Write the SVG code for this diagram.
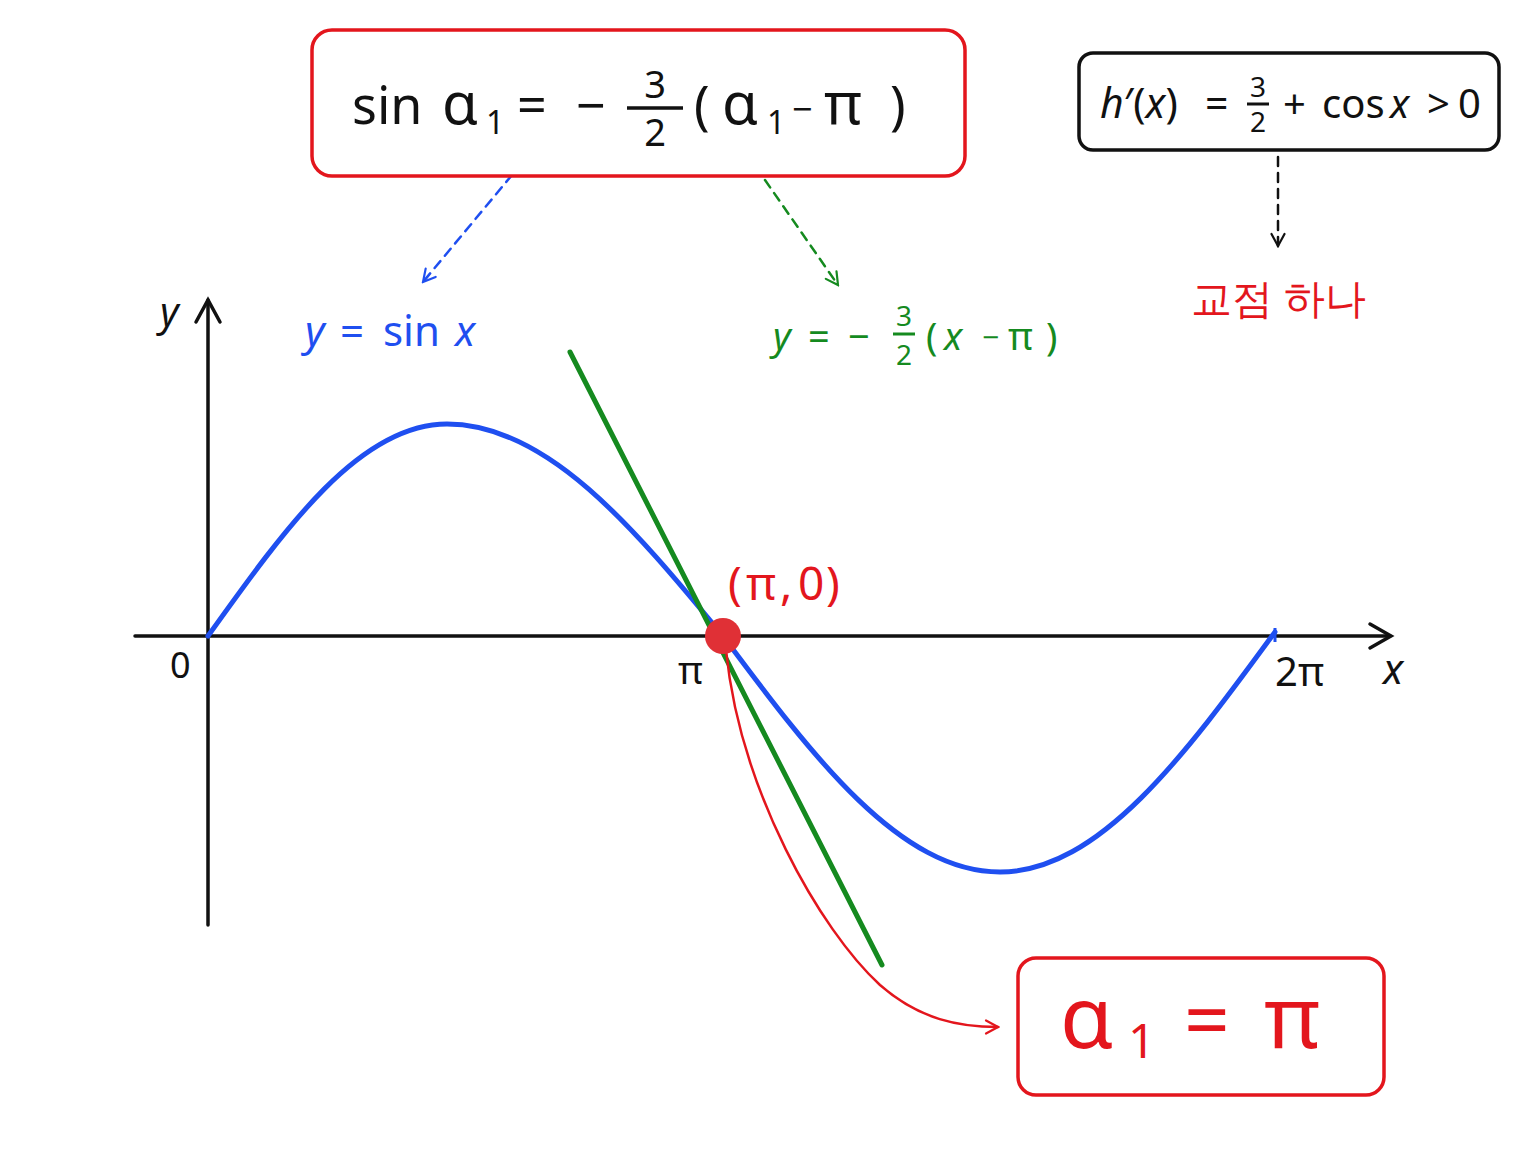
<svg xmlns="http://www.w3.org/2000/svg" width="1536" height="1152" viewBox="0 0 1536 1152">
<style>
text{font-family:"Noto Sans","DejaVu Sans",sans-serif}
.k{fill:#111}.r{fill:#e3161d}.b{fill:#1f4ff0}.g{fill:#158a1f}
.box{fill:#fff;stroke-width:3.5}
.ax{stroke:#111;stroke-width:3.5;fill:none;stroke-linecap:round}
.i{font-style:italic}
</style>
<defs>
<marker id="ch" viewBox="0 0 16 16" refX="14" refY="8" markerWidth="16" markerHeight="16" markerUnits="userSpaceOnUse" orient="auto">
<path d="M2,1.5 L14,8 L2,14.5" fill="none" stroke="context-stroke" stroke-width="2.2" stroke-linecap="round"/>
</marker>
</defs>
<rect width="1536" height="1152" fill="#fff"/>

<g id="axes">
<line class="ax" x1="135" y1="636" x2="1390" y2="636"/>
<path class="ax" d="M1370,624 L1391,636 L1370,648"/>
<line class="ax" x1="208" y1="925" x2="208" y2="300"/>
<path class="ax" d="M196,322 L208,300 L220,322"/>
<text class="k i" x="160" y="326" font-size="40">y</text>
<text class="k" x="170" y="678" font-size="36">0</text>
<text class="k" x="678" y="684" font-size="38">π</text>
<text class="k" x="1275" y="686" font-size="40">2π</text>
<text class="k i" x="1383" y="684" font-size="42">x</text>
</g>

<g id="sine">
<path d="M208,636 C286,527 360,424 447,424 C547,424 633,527 723,636 C813,757 900,872 1000,872 C1099,872 1185,755 1275,632" fill="none" stroke="#1f4ff0" stroke-width="5" stroke-linecap="round"/>
<line x1="1275" y1="628" x2="1275" y2="642" stroke="#1f4ff0" stroke-width="3"/>
</g>

<g id="tangent">
<line x1="570" y1="352" x2="882" y2="965" stroke="#158a1f" stroke-width="5" stroke-linecap="round"/>
</g>

<g id="connectors" fill="none" stroke-width="2.5" stroke-linecap="round">
<path d="M726,650 C740,790 820,930 880,985 C920,1020 960,1027 998,1027" stroke="#e3161d" marker-end="url(#ch)"/>
<line x1="512" y1="175" x2="423" y2="282" stroke="#1f4ff0" stroke-dasharray="9,7" marker-end="url(#ch)"/>
<line x1="765" y1="180" x2="838" y2="285" stroke="#158a1f" stroke-dasharray="9,7" marker-end="url(#ch)"/>
<line x1="1278" y1="157" x2="1278" y2="246" stroke="#111" stroke-dasharray="9,7" marker-end="url(#ch)"/>
</g>

<g id="point">
<circle cx="723" cy="636" r="18" fill="#e03036"/>
<text class="r" font-size="46"><tspan x="728" y="600">(</tspan><tspan x="746" y="600">π</tspan><tspan x="780" y="600">,</tspan><tspan x="798" y="600">0</tspan><tspan x="826" y="600">)</tspan></text>
</g>

<g id="eq-box">
<rect class="box" x="312" y="30" width="653" height="146" rx="20" stroke="#e3161d"/>
<text class="k" font-size="52"><tspan x="352" y="124">sin</tspan><tspan x="442" y="124" font-size="58">α</tspan><tspan x="486" y="134" font-size="32">1</tspan><tspan x="517" y="124">=</tspan><tspan x="576" y="124">−</tspan></text>
<text class="k" x="655" y="98" font-size="38" text-anchor="middle">3</text>
<line x1="627" y1="108" x2="683" y2="108" stroke="#111" stroke-width="3.5"/>
<text class="k" x="655" y="146" font-size="38" text-anchor="middle">2</text>
<text class="k" font-size="52"><tspan x="694" y="124">(</tspan><tspan x="722" y="124" font-size="58">α</tspan><tspan x="767" y="134" font-size="32">1</tspan><tspan x="792" y="122" font-size="36">−</tspan><tspan x="824" y="124" font-size="58">π</tspan><tspan x="890" y="124">)</tspan></text>
</g>

<g id="deriv-box">
<rect class="box" x="1079" y="53" width="420" height="97" rx="14" stroke="#111"/>
<text class="k" font-size="41"><tspan x="1100" y="118" class="i">h</tspan><tspan>′(</tspan><tspan class="i">x</tspan><tspan>)</tspan><tspan x="1205" y="118">=</tspan></text>
<text class="k" x="1258" y="97" font-size="28" text-anchor="middle">3</text>
<line x1="1247" y1="104" x2="1269" y2="104" stroke="#111" stroke-width="3"/>
<text class="k" x="1258" y="132" font-size="28" text-anchor="middle">2</text>
<text class="k" font-size="40"><tspan x="1283" y="118">+</tspan><tspan x="1322" y="118">cos</tspan><tspan x="1390" y="118" class="i">x</tspan><tspan x="1427" y="118">&gt;</tspan><tspan x="1458" y="118">0</tspan></text>
</g>

<g id="one-intersection">
<text class="r" x="1191" y="313" font-size="41" font-family="'Noto Sans CJK KR',sans-serif">교점 하나</text>
</g>

<g id="sin-label">
<text class="b" font-size="42"><tspan x="305" y="346" class="i">y</tspan><tspan x="340" y="346">=</tspan><tspan x="383" y="346">sin</tspan><tspan x="455" y="346" class="i">x</tspan></text>
</g>

<g id="tangent-label">
<text class="g" font-size="38"><tspan x="773" y="350" class="i">y</tspan><tspan x="808" y="350">=</tspan><tspan x="848" y="350">−</tspan></text>
<text class="g" x="904" y="326" font-size="28" text-anchor="middle">3</text>
<line x1="893" y1="334" x2="915" y2="334" stroke="#158a1f" stroke-width="3"/>
<text class="g" x="904" y="365" font-size="28" text-anchor="middle">2</text>
<text class="g" font-size="38"><tspan x="926" y="350">(</tspan><tspan x="944" y="350" class="i">x</tspan><tspan x="982" y="348" font-size="30">−</tspan><tspan x="1008" y="350">π</tspan><tspan x="1046" y="350">)</tspan></text>
</g>

<g id="result-box">
<rect class="box" x="1018" y="958" width="366" height="137" rx="18" stroke="#e3161d"/>
<text class="r" font-size="80"><tspan x="1060" y="1048" font-size="86">α</tspan><tspan x="1128" y="1058" font-size="48">1</tspan><tspan x="1184" y="1048">=</tspan><tspan x="1264" y="1048" font-size="86">π</tspan></text>
</g>
</svg>
